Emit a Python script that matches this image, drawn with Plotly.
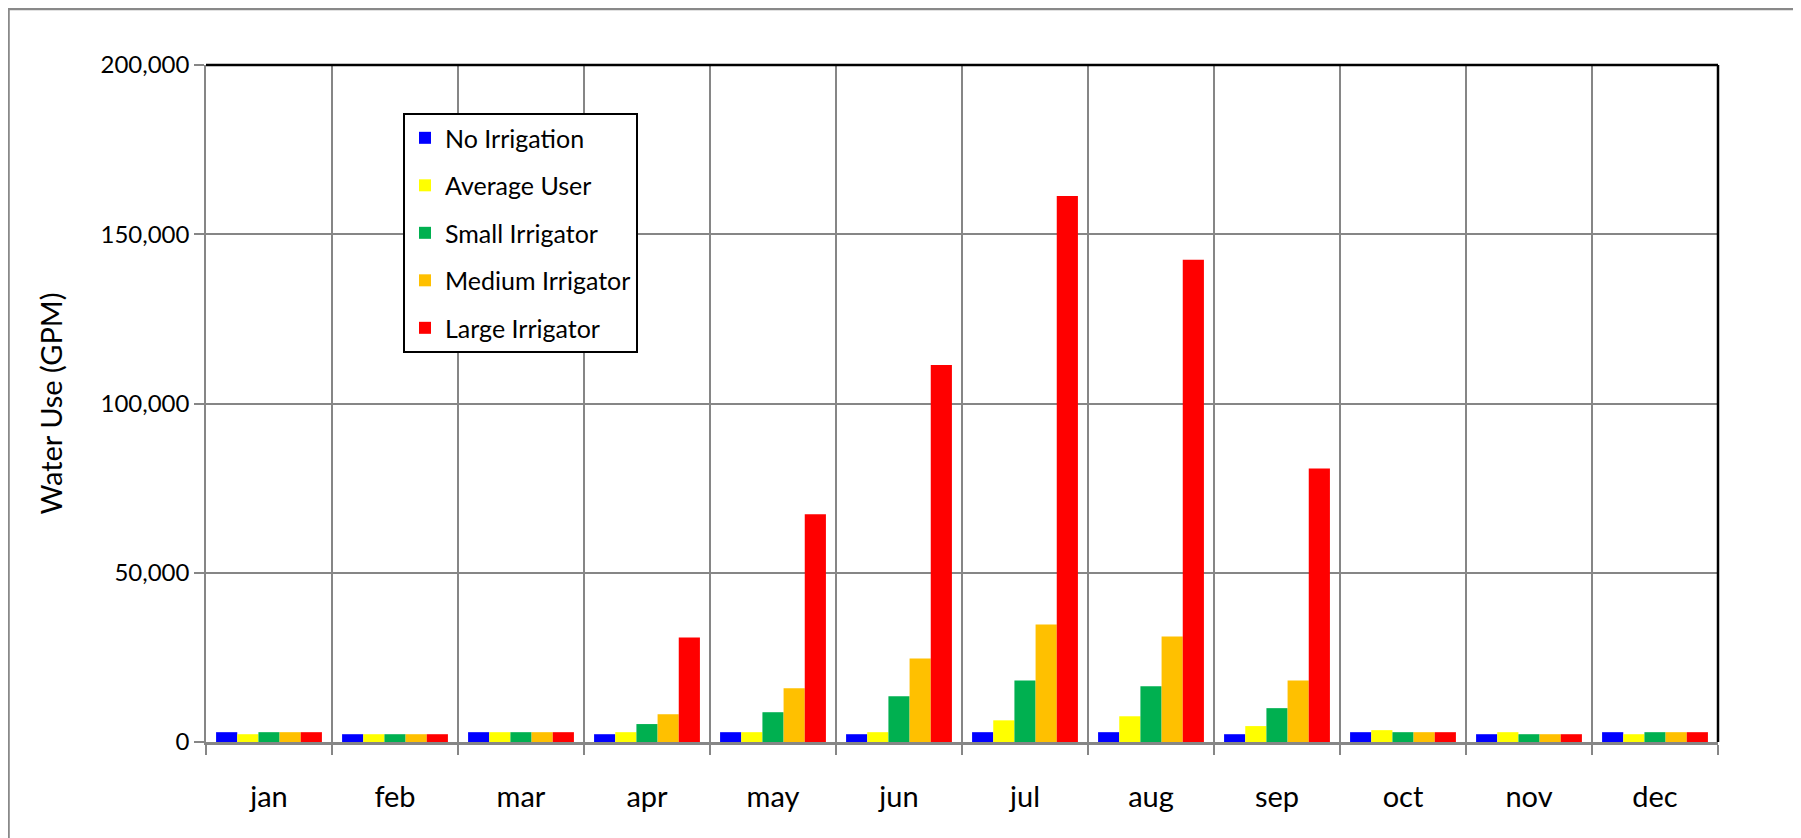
import plotly.graph_objects as go

# Monthly water use by user type (GPM)
months = ["jan", "feb", "mar", "apr", "may", "jun", "jul", "aug", "sep", "oct", "nov", "dec"]
no_irrigation = [2900, 2300, 2900, 2300, 2900, 2300, 2900, 2900, 2300, 2900, 2300, 2900]
average_user = [2300, 2300, 2900, 2900, 2900, 2900, 6400, 7600, 4700, 3500, 2900, 2300]
small_irrigator = [2900, 2300, 2900, 5300, 8800, 13500, 18200, 16500, 10000, 2900, 2300, 2900]
medium_irrigator = [2900, 2300, 2900, 8200, 15900, 24700, 34700, 31200, 18200, 2900, 2300, 2900]
large_irrigator = [2900, 2300, 2900, 30900, 67300, 111400, 161300, 142500, 80800, 2900, 2300, 2900]

series = [
    ("No Irrigation", no_irrigation, "#0000FF"),
    ("Average User", average_user, "#FFFF00"),
    ("Small Irrigator", small_irrigator, "#00B050"),
    ("Medium Irrigator", medium_irrigator, "#FFC000"),
    ("Large Irrigator", large_irrigator, "#FF0000"),
]

FONT = "Lato, 'Open Sans', sans-serif"
GRID = "#868686"

fig = go.Figure()
for name, values, color in series:
    fig.add_trace(go.Bar(x=months, y=values, name=name, marker_color=color,
                         marker_line_width=0, legendgroup=name))

# the page body adds an 8px offset, so margins are shifted by that much
fig.update_layout(
    width=1801, height=838,
    margin=dict(l=198, r=91, t=57, b=104),
    paper_bgcolor="white", plot_bgcolor="white",
    font=dict(family=FONT, color="black"),
    barmode="group", bargap=0.16, bargroupgap=0,
    showlegend=True,
    legend=dict(
        x=0.1303, y=0.929, xanchor="left", yanchor="top",
        bgcolor="white", bordercolor="black", borderwidth=2,
        font=dict(size=25), tracegroupgap=12, traceorder="grouped",
    ),
)

fig.update_xaxes(
    type="category", tickson="boundaries",
    showgrid=True, gridcolor=GRID, gridwidth=1.5,
    showline=True, linecolor=GRID, linewidth=3,
    ticks="outside", ticklen=10, tickwidth=1.5, tickcolor=GRID,
    tickfont=dict(size=29), ticklabelstandoff=27,
)

fig.update_yaxes(
    range=[0, 200000], dtick=50000, tickformat=",",
    showgrid=True, gridcolor=GRID, gridwidth=1.5,
    showline=True, linecolor=GRID, linewidth=1.5,
    ticks="outside", ticklen=10, tickwidth=1.5, tickcolor=GRID,
    tickfont=dict(size=24), zeroline=False, automargin=False,
    title=dict(text="Water Use (GPM)", font=dict(size=29), standoff=29),
)

# black plot-area border on top and right, outer chart frame
fig.add_shape(type="line", xref="paper", yref="paper", x0=0, x1=1, y0=1, y1=1,
              line=dict(color="black", width=2.5))
fig.add_shape(type="line", xref="paper", yref="paper", x0=1, x1=1, y0=0, y1=1,
              line=dict(color="black", width=2.5))
fig.add_shape(type="rect", xref="paper", yref="paper",
              x0=-0.1306, x1=1.0529, y0=-0.2, y1=1.0827,
              line=dict(color="#898989", width=2.5))

fig.write_html("out.html")
